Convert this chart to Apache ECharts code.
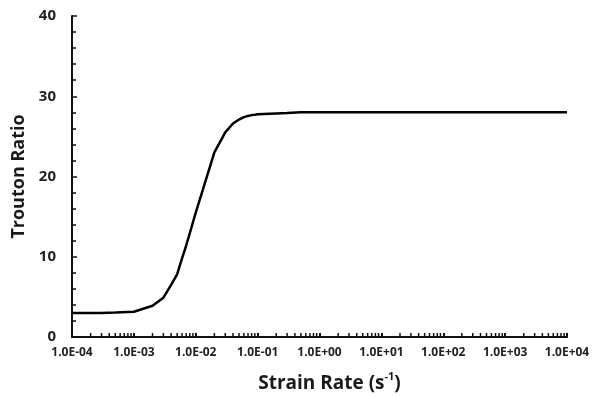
<!DOCTYPE html>
<html>
<head>
<meta charset="utf-8">
<script src="https://cdn.jsdelivr.net/npm/echarts@6/dist/echarts.min.js"></script>
<style>
html,body{margin:0;padding:0;background:#fff;}
#chart{width:593px;height:398px;}
</style>
</head>
<body>
<div id="chart"></div>
<script>
// Strain rate (s^-1) values and Trouton ratio
const strainRate = [1e-4, 2e-4, 3e-4, 5e-4, 1e-3, 2e-3, 3e-3, 4e-3, 5e-3, 6e-3, 7e-3, 8e-3, 9e-3,
  1e-2, 2e-2, 3e-2, 4e-2, 5e-2, 6e-2, 7e-2, 8e-2, 9e-2, 1e-1, 2e-1, 3e-1, 5e-1,
  1e0, 1e1, 1e2, 1e3, 1e4];
const troutonRatio = [3.0, 3.0, 3.0, 3.05, 3.15, 3.9, 4.9, 6.5, 7.8, 9.8, 11.4, 12.9, 14.3,
  15.5, 23.0, 25.5, 26.6, 27.1, 27.4, 27.55, 27.65, 27.7, 27.75, 27.85, 27.9, 28.0,
  28.0, 28.0, 28.0, 28.0, 28.0];
const xDecades = [-4, -3, -2, -1, 0, 1, 2, 3, 4];
const yTicks = [0, 10, 20, 30, 40];

// minor tick positions on the log axis (2..9 within each decade)
const minorTicks = [];
for (let i = 0; i < xDecades.length - 1; i++) {
  for (let k = 2; k <= 9; k++) minorTicks.push([k * Math.pow(10, xDecades[i]), 0]);
}

function fmtExp(v) {
  const e = Math.round(Math.log10(v));
  const sign = e < 0 ? '-' : '+';
  const a = Math.abs(e);
  return '1.0E' + sign + (a < 10 ? '0' : '') + a;
}

const FONT = '"Open Sans", Lato, sans-serif';
const chart = echarts.init(document.getElementById('chart'), null, {renderer: 'canvas'});
chart.setOption({
  animation: false,
  backgroundColor: '#fff',
  grid: {left: 72, right: 26, top: 16, bottom: 60, containLabel: false},
  xAxis: {
    type: 'log',
    logBase: 10,
    min: Math.pow(10, xDecades[0]),
    max: Math.pow(10, xDecades[xDecades.length - 1]),
    interval: 1,
    name: '{n|Strain Rate (s}{sup|-1}{n|)}',
    nameLocation: 'middle',
    nameGap: 34,
    nameTextStyle: {
      padding: [0, 0, 0, 20],
      rich: {
        n: {fontFamily: FONT, fontWeight: 'bold', fontSize: 19, color: '#1a1a1a', verticalAlign: 'bottom', lineHeight: 22},
        sup: {fontFamily: FONT, fontWeight: 'bold', fontSize: 11, color: '#1a1a1a', verticalAlign: 'top', lineHeight: 22, padding: [0, 0, 10, 0]}
      }
    },
    axisLine: {lineStyle: {color: '#111', width: 2}},
    axisTick: {show: true, inside: true, length: 4, lineStyle: {color: '#111', width: 2}},
    minorTick: {show: false},
    splitLine: {show: false},
    axisLabel: {
      formatter: fmtExp,
      fontFamily: FONT, fontWeight: 'bold', fontSize: 12, color: '#222', margin: 10
    }
  },
  yAxis: {
    type: 'value',
    min: yTicks[0],
    max: yTicks[yTicks.length - 1],
    interval: 10,
    name: 'Trouton Ratio',
    nameLocation: 'middle',
    nameGap: 42,
    nameTextStyle: {fontFamily: FONT, fontWeight: 'bold', fontSize: 18, color: '#1a1a1a'},
    axisLine: {show: true, lineStyle: {color: '#111', width: 2}},
    axisTick: {show: true, inside: true, length: 5, lineStyle: {color: '#111', width: 1.5}},
    minorTick: {show: true, splitNumber: 5, length: 4, lineStyle: {color: '#111', width: 1.5}},
    splitLine: {show: false},
    axisLabel: {fontFamily: FONT, fontWeight: 'bold', fontSize: 15, color: '#222', margin: 16}
  },
  series: [
    {
      type: 'line',
      data: strainRate.map((x, i) => [x, troutonRatio[i]]),
      showSymbol: false,
      symbol: 'none',
      smooth: false,
      lineStyle: {color: '#000', width: 2.5},
      silent: true
    },
    {
      type: 'custom',
      data: minorTicks,
      silent: true,
      clip: false,
      renderItem: function (params, api) {
        const p = api.coord([api.value(0), api.value(1)]);
        return {
          type: 'line',
          shape: {x1: p[0], y1: p[1], x2: p[0], y2: p[1] - 4},
          style: {stroke: '#111', lineWidth: 1.5}
        };
      }
    }
  ]
});
</script>
</body>
</html>
